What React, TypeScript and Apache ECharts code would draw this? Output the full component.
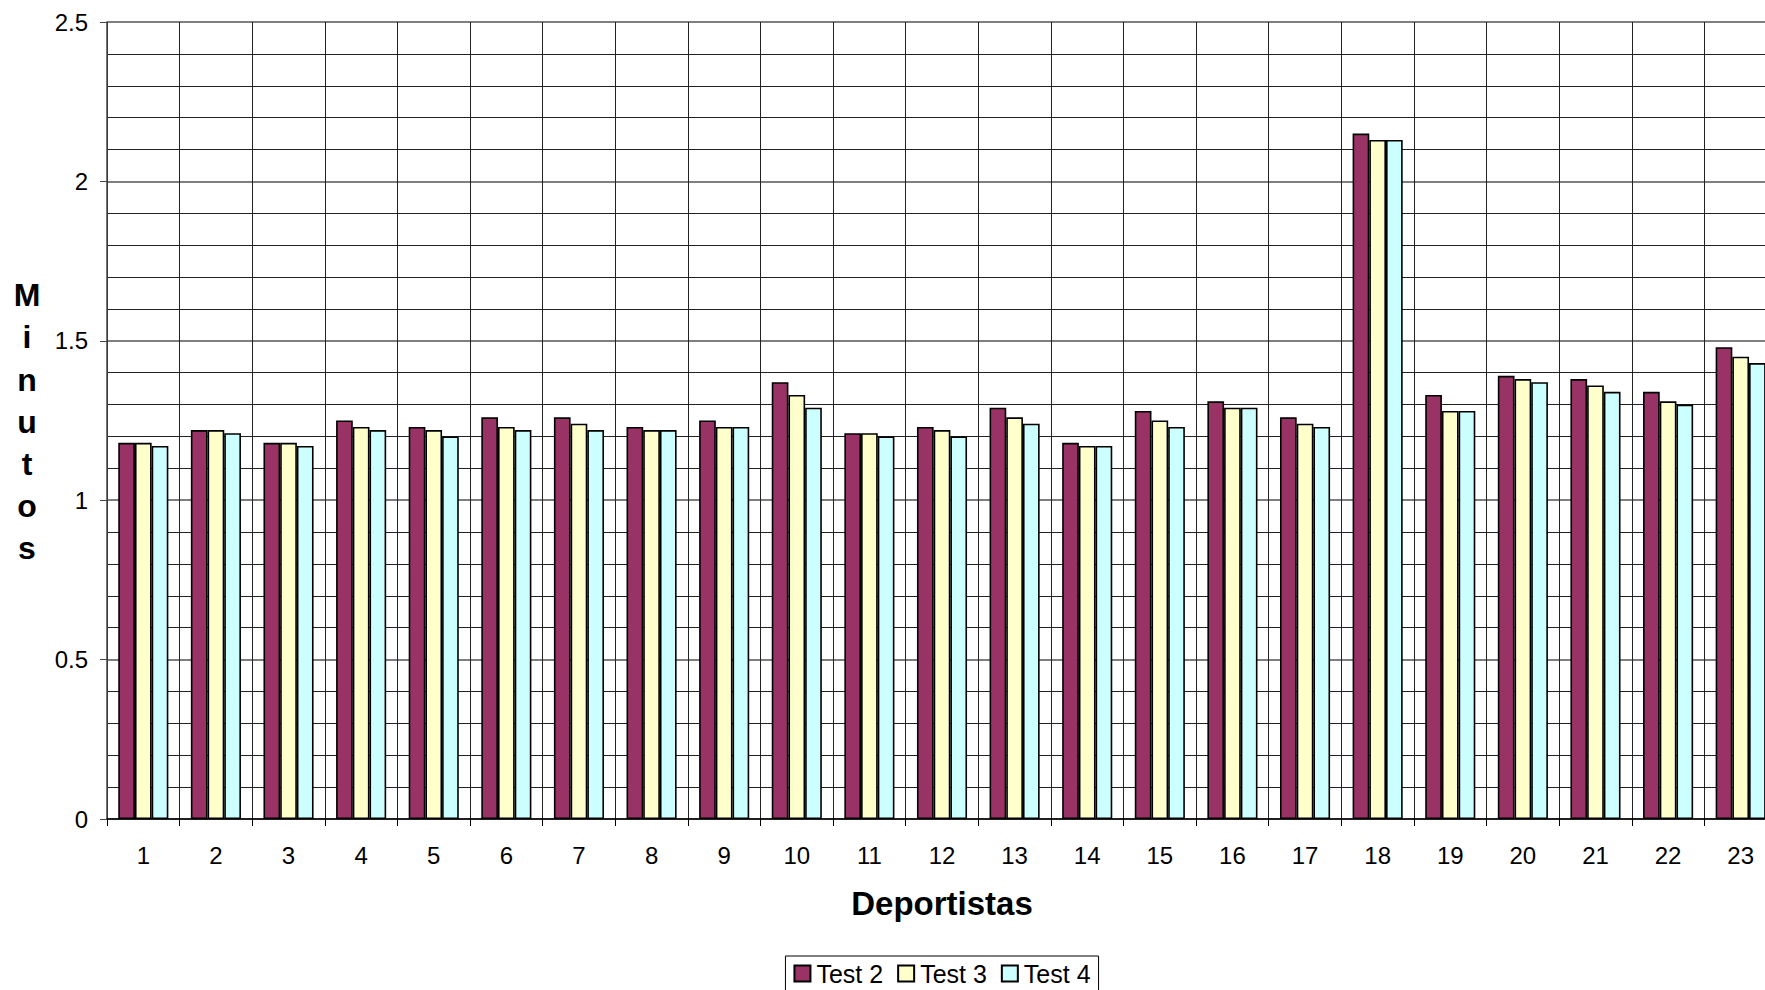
import React, { useEffect, useRef } from "react";
import * as echarts from "echarts";

const categories = ["1","2","3","4","5","6","7","8","9","10","11","12","13","14","15","16","17","18","19","20","21","22","23"];
const test2 = [1.18,1.22,1.18,1.25,1.23,1.26,1.26,1.23,1.25,1.37,1.21,1.23,1.29,1.18,1.28,1.31,1.26,2.15,1.33,1.39,1.38,1.34,1.48];
const test3 = [1.18,1.22,1.18,1.23,1.22,1.23,1.24,1.22,1.23,1.33,1.21,1.22,1.26,1.17,1.25,1.29,1.24,2.13,1.28,1.38,1.36,1.31,1.45];
const test4 = [1.17,1.21,1.17,1.22,1.20,1.22,1.22,1.22,1.23,1.29,1.20,1.20,1.24,1.17,1.23,1.29,1.23,2.13,1.28,1.37,1.34,1.30,1.43];
const seriesNames = ["Test 2", "Test 3", "Test 4"];
const seriesColors = ["#993366", "#FFFFCC", "#CCFFFF"];

const FONT = "'Liberation Sans', Arial, sans-serif";

export default function App() {
  const ref = useRef<HTMLDivElement>(null);
  useEffect(() => {
    if (!ref.current) return;
    const chart = echarts.init(ref.current, null, { renderer: "svg" });
    const datas = [test2, test3, test4];
    chart.setOption({
      animation: false,
      backgroundColor: "#ffffff",
      textStyle: { fontFamily: FONT },
      grid: { left: 107, right: 107, top: 22, bottom: 181, containLabel: false },
      legend: {
        data: seriesNames,
        left: "center",
        top: 956,
        orient: "horizontal",
        padding: [5, 8, 5, 8],
        itemGap: 14,
        itemWidth: 16,
        itemHeight: 16,
        borderColor: "#000",
        borderWidth: 1,
        icon: "rect",
        textStyle: { fontSize: 25, color: "#000", fontFamily: FONT, padding: [0, 0, 0, 1] },
      },
      xAxis: {
        type: "category",
        data: categories,
        boundaryGap: true,
        name: "Deportistas",
        nameLocation: "middle",
        nameGap: 68,
        nameTextStyle: { fontSize: 33, fontWeight: "bold", color: "#000", fontFamily: FONT },
        axisLine: { show: true, lineStyle: { color: "#000", width: 1.5 } },
        axisTick: { show: true, length: 7, alignWithLabel: false, lineStyle: { color: "#000" } },
        axisLabel: { fontSize: 24, color: "#000", margin: 24, interval: 0, fontFamily: FONT },
        splitLine: { show: true, interval: 0, lineStyle: { color: "#222", width: 1 } },
      },
      yAxis: {
        type: "value",
        min: 0,
        max: 2.5,
        interval: 0.5,
        splitNumber: 5,
        axisLine: { show: true, lineStyle: { color: "#444", width: 1.5 } },
        axisTick: { show: true, length: 7, lineStyle: { color: "#444" } },
        axisLabel: { fontSize: 24, color: "#000", margin: 19, fontFamily: FONT },
        splitLine: { show: true, lineStyle: { color: "#555", width: 1.5 } },
        minorTick: { show: false, splitNumber: 5 },
        minorSplitLine: { show: true, lineStyle: { color: "#222", width: 1 } },
      },
      graphic: [
        {
          type: "text",
          x: 27,
          y: 274,
          style: {
            text: "M\ni\nn\nu\nt\no\ns",
            font: `bold 32px ${FONT}`,
            fill: "#000",
            textAlign: "center",
            textVerticalAlign: "top",
            lineHeight: 42.2,
          },
        },
      ],
      series: seriesNames.map((name, i) => ({
        name,
        type: "bar",
        data: datas[i],
        barGap: "0%",
        barCategoryGap: "31%",
        itemStyle: { color: seriesColors[i], borderColor: "#000", borderWidth: 1.6 },
      })),
    });
    return () => chart.dispose();
  }, []);

  return (
    <div style={{ position: "fixed", left: 0, top: 0, width: 1765, height: 990, overflow: "hidden", background: "#fff" }}>
      <div ref={ref} style={{ width: 1884, height: 1000 }} />
    </div>
  );
}
